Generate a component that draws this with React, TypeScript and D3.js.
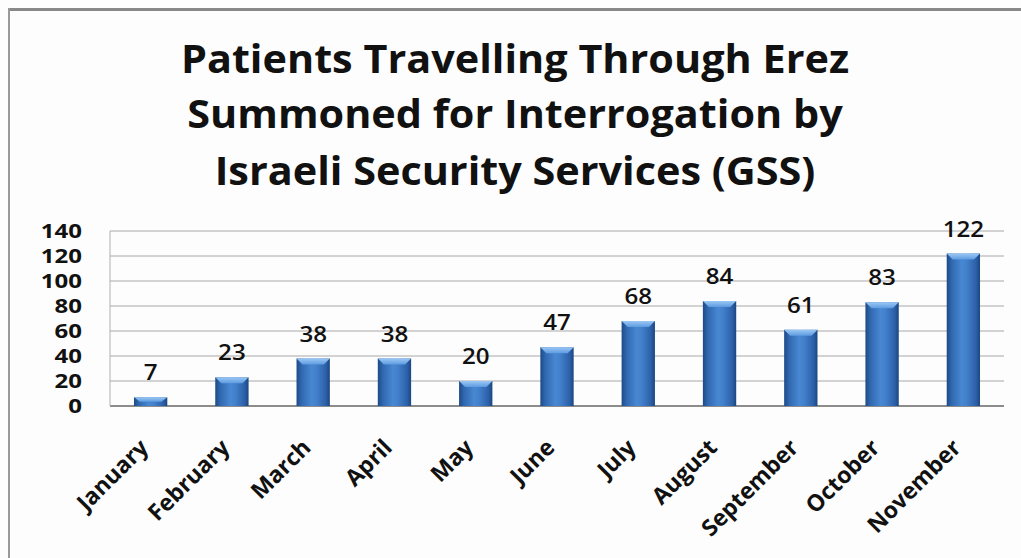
import React from "react";
import * as d3 from "d3";

const months = ["January","February","March","April","May","June","July","August","September","October","November"];
const values = [7, 23, 38, 38, 20, 47, 68, 84, 61, 83, 122];
const yTicks = [0, 20, 40, 60, 80, 100, 120, 140];
const titleLines = [
  "Patients Travelling Through Erez",
  "Summoned for Interrogation by",
  "Israeli Security Services (GSS)",
];

const W = 1021, H = 558;
const plot = { left: 110, right: 1004, top: 231, bottom: 406 };
const FONT = "'Open Sans', Lato, sans-serif";

export default function App() {
  const x = d3.scaleBand<string>().domain(months).range([plot.left, plot.right]).paddingInner(0.59).paddingOuter(0.295);
  const y = d3.scaleLinear().domain([0, 140]).range([plot.bottom, plot.top]);
  const bw = x.bandwidth();
  return (
    <svg width={W} height={H} style={{ position: "absolute", left: 0, top: 0, background: "#fdfdfd" }}>
      <defs>
        <linearGradient id="barg" x1="0" x2="1" y1="0" y2="0">
          <stop offset="0%" stopColor="#1d4a86" />
          <stop offset="15%" stopColor="#3068b0" />
          <stop offset="45%" stopColor="#4887d2" />
          <stop offset="60%" stopColor="#4280cb" />
          <stop offset="88%" stopColor="#2c60a8" />
          <stop offset="100%" stopColor="#1b4680" />
        </linearGradient>
        <linearGradient id="capg" x1="0" x2="0" y1="0" y2="1">
          <stop offset="0%" stopColor="#9cc8f4" />
          <stop offset="100%" stopColor="#5d9be0" />
        </linearGradient>
      </defs>
      <rect x={0} y={0} width={W} height={H} fill="#fdfdfd" />
      <line x1={8} x2={W} y1={9.5} y2={9.5} stroke="#888" strokeWidth={3} />
      <line x1={9} x2={9} y1={8} y2={H} stroke="#999" strokeWidth={2} />
      {titleLines.map((t, i) => (
        <text key={t} transform={`translate(515,${[73, 128, 185][i]}) scale(1.035,1)`} textAnchor="middle" fontFamily={FONT} fontWeight="bold" fontSize={40} fill="#111">{t}</text>
      ))}
      {yTicks.map((t) => (
        <g key={t}>
          <line x1={plot.left} x2={plot.right} y1={y(t)} y2={y(t)} stroke={t === 0 ? "#8c8c8c" : "#a8a8a8"} strokeWidth={t === 0 ? 2 : 1} />
          <text transform={`translate(82,${y(t)}) scale(1.2,1)`} dy="0.36em" textAnchor="end" fontFamily={FONT} fontWeight="bold" fontSize={20} fill="#111">{t}</text>
        </g>
      ))}
      <line x1={plot.left} x2={plot.left} y1={plot.top} y2={plot.bottom} stroke="#b0b0b0" strokeWidth={1} />
      {months.map((m, i) => {
        const x0 = x(m)!;
        const yt = y(values[i]);
        const h = plot.bottom - yt;
        const cap = Math.min(6, h / 2);
        return (
          <g key={m}>
            <rect x={x0} y={yt} width={bw} height={h} fill="url(#barg)" />
            <path d={`M${x0},${yt}L${x0 + bw},${yt}L${x0 + bw - 6},${yt + cap}L${x0 + 6},${yt + cap}Z`} fill="url(#capg)" />
            <text transform={`translate(${x0 + bw / 2},${yt - 17}) scale(1.15,1)`} textAnchor="middle" fontFamily={FONT} fontWeight={600} fontSize={21} fill="#111">{values[i]}</text>
            <text transform={`translate(${x0 + bw / 2 - 1},${449}) rotate(-45)`} textAnchor="end" fontFamily={FONT} fontWeight="bold" fontSize={23} fill="#111">{m}</text>
          </g>
        );
      })}
    </svg>
  );
}
